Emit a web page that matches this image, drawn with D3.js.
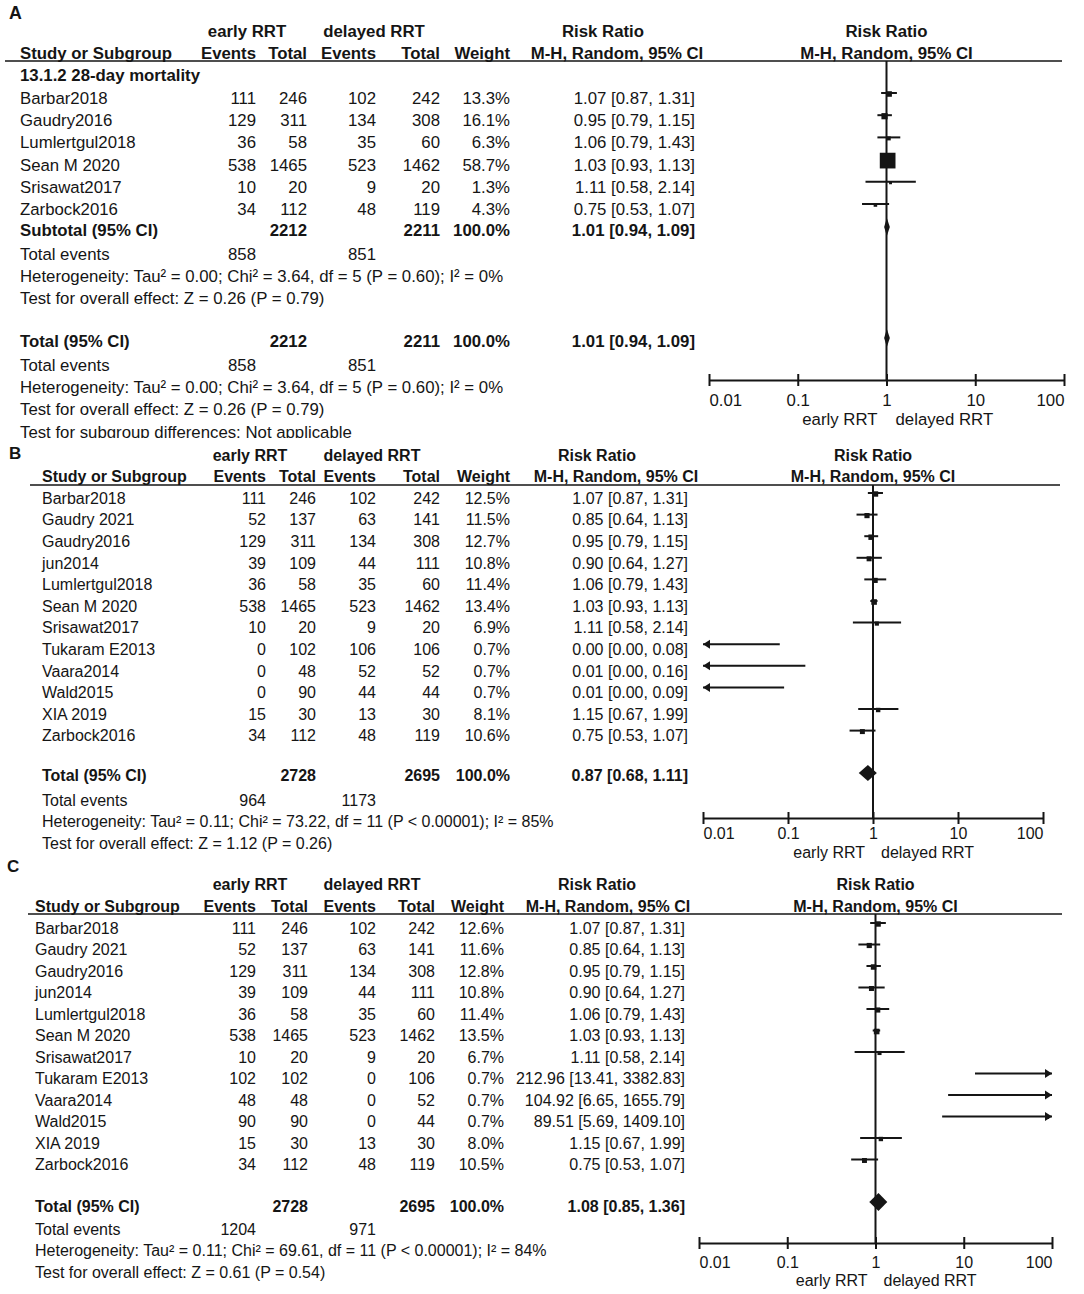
<!DOCTYPE html>
<html><head><meta charset="utf-8">
<script src="https://cdn.jsdelivr.net/npm/d3@7"></script>
<style>body{margin:0;background:#fff}</style>
</head><body>
<script>
// ---------------- DATA ----------------
const studiesA = ["Barbar2018","Gaudry2016","Lumlertgul2018","Sean M 2020","Srisawat2017","Zarbock2016"];
const earlyEventsA = [111,129,36,538,10,34];
const earlyTotalA = [246,311,58,1465,20,112];
const delayedEventsA = [102,134,35,523,9,48];
const delayedTotalA = [242,308,60,1462,20,119];
const weightA = [13.3,16.1,6.3,58.7,1.3,4.3];
const rrA = [1.07,0.95,1.06,1.03,1.11,0.75];
const loA = [0.87,0.79,0.79,0.93,0.58,0.53];
const hiA = [1.31,1.15,1.43,1.13,2.14,1.07];

const studiesBC = ["Barbar2018","Gaudry 2021","Gaudry2016","jun2014","Lumlertgul2018","Sean M 2020","Srisawat2017","Tukaram E2013","Vaara2014","Wald2015","XIA 2019","Zarbock2016"];
const earlyEventsB = [111,52,129,39,36,538,10,0,0,0,15,34];
const earlyTotalB = [246,137,311,109,58,1465,20,102,48,90,30,112];
const delayedEventsB = [102,63,134,44,35,523,9,106,52,44,13,48];
const delayedTotalB = [242,141,308,111,60,1462,20,106,52,44,30,119];
const weightB = [12.5,11.5,12.7,10.8,11.4,13.4,6.9,0.7,0.7,0.7,8.1,10.6];
const rrB = [1.07,0.85,0.95,0.90,1.06,1.03,1.11,0.00,0.01,0.01,1.15,0.75];
const loB = [0.87,0.64,0.79,0.64,0.79,0.93,0.58,0.00,0.00,0.00,0.67,0.53];
const hiB = [1.31,1.13,1.15,1.27,1.43,1.13,2.14,0.08,0.16,0.09,1.99,1.07];

const earlyEventsC = [111,52,129,39,36,538,10,102,48,90,15,34];
const earlyTotalC = [246,137,311,109,58,1465,20,102,48,90,30,112];
const delayedEventsC = [102,63,134,44,35,523,9,0,0,0,13,48];
const delayedTotalC = [242,141,308,111,60,1462,20,106,52,44,30,119];
const weightC = [12.6,11.6,12.8,10.8,11.4,13.5,6.7,0.7,0.7,0.7,8.0,10.5];
const rrC = [1.07,0.85,0.95,0.90,1.06,1.03,1.11,212.96,104.92,89.51,1.15,0.75];
const loC = [0.87,0.64,0.79,0.64,0.79,0.93,0.58,13.41,6.65,5.69,0.67,0.53];
const hiC = [1.31,1.13,1.15,1.27,1.43,1.13,2.14,3382.83,1655.79,1409.10,1.99,1.07];

const pooledRR = [1.01, 0.87, 1.08];
const pooledLo = [0.94, 0.68, 0.85];
const pooledHi = [1.09, 1.11, 1.36];
const pooledEarlyTotal = [2212, 2728, 2728];
const pooledDelayedTotal = [2211, 2695, 2695];
const totalEventsEarly = [858, 964, 1204];
const totalEventsDelayed = [851, 1173, 971];
const heterogeneity = [
  "Heterogeneity: Tau² = 0.00; Chi² = 3.64, df = 5 (P = 0.60); I² = 0%",
  "Heterogeneity: Tau² = 0.11; Chi² = 73.22, df = 11 (P < 0.00001); I² = 85%",
  "Heterogeneity: Tau² = 0.11; Chi² = 69.61, df = 11 (P < 0.00001); I² = 84%"];
const overallEffect = [
  "Test for overall effect: Z = 0.26 (P = 0.79)",
  "Test for overall effect: Z = 1.12 (P = 0.26)",
  "Test for overall effect: Z = 0.61 (P = 0.54)"];
const subgroupTitle = "13.1.2 28-day mortality";
const subgroupTest = "Test for subgroup differences: Not applicable";
const panelLetters = ["A","B","C"];
const groupLabels = ["early RRT","delayed RRT"];
const columnLabels = ["Study or Subgroup","Events","Total","Events","Total","Weight","M-H, Random, 95% CI"];
const axisTicks = [0.01, 0.1, 1, 10, 100];
const axisTickLabels = ["0.01","0.1","1","10","100"];

// ---------------- DRAWING ----------------
const FONT = "'Liberation Sans', Arial, Helvetica, sans-serif";
const INK = "#151515";
const svg = d3.select("body").append("svg")
  .attr("width",1084).attr("height",1294)
  .style("font-family",FONT);
const defs = svg.append("defs");
defs.append("clipPath").attr("id","clipA").append("rect")
  .attr("x",0).attr("y",0).attr("width",1084).attr("height",438);

const sizeScale = d3.scaleLinear().domain([0,60]).range([2.6,16]);
const fmt2 = d3.format(".2f"), fmt1 = d3.format(".1f");
const rrText = (r,l,h) => `${fmt2(r)} [${fmt2(l)}, ${fmt2(h)}]`;

function drawPanel(k, L, D) {
  const g = svg.append("g");
  const tg = L.clip ? g.append("g").attr("clip-path","url(#"+L.clip+")") : g;
  const T = (x,y,s,o={}) => tg.append("text").attr("x",x).attr("y",y).attr("dy","0.36em")
      .attr("font-size",o.fs||L.fs).attr("font-weight",o.bold?"bold":null)
      .attr("text-anchor",o.a||"start").attr("fill",INK).text(s);
  const c = L.cols;
  const x = d3.scaleLog().domain([axisTicks[0], axisTicks[axisTicks.length-1]]).range(L.fx);
  const [dmin,dmax] = x.domain();
  const x1 = x(1);

  // headers
  T(L.letterX, L.letterY, panelLetters[k], {bold:true, fs:L.fs+1});
  T(L.earlyC, L.grpY, groupLabels[0], {bold:true, a:"middle"});
  T(L.delayedC, L.grpY, groupLabels[1], {bold:true, a:"middle"});
  T(L.rrTitleC, L.grpY, "Risk Ratio", {bold:true, a:"middle"});
  T(x1, L.grpY, "Risk Ratio", {bold:true, a:"middle"});
  T(L.nameX, L.hdrY, columnLabels[0], {bold:true});
  for (let j=0;j<5;j++) T(c[j], L.hdrY, columnLabels[j+1], {bold:true, a:"end"});
  T(L.mhC, L.hdrY, columnLabels[6], {bold:true, a:"middle"});
  T(x1, L.hdrY, columnLabels[6], {bold:true, a:"middle"});
  g.append("line").attr("x1",L.lineX[0]).attr("x2",L.lineX[1])
    .attr("y1",L.lineY).attr("y2",L.lineY).attr("stroke",INK).attr("stroke-width",1.6);

  // vertical line of no effect
  g.append("line").attr("x1",x1).attr("x2",x1).attr("y1",L.lineY).attr("y2",L.axisY)
    .attr("stroke",INK).attr("stroke-width",2);

  // axis
  const ax = g.append("g").attr("transform",`translate(0,${L.axisY})`)
    .call(d3.axisBottom(x).tickValues(axisTicks).tickFormat((d,i)=>axisTickLabels[i])
      .tickSize(5).tickSizeOuter(0));
  ax.select(".domain").attr("stroke",INK).attr("stroke-width",2);
  ax.selectAll(".tick line").attr("y1",-6).attr("y2",6).attr("stroke",INK).attr("stroke-width",2);
  ax.selectAll(".tick text").attr("font-family",FONT).attr("font-size",L.fs).attr("fill",INK)
    .attr("y",L.tickLabelDy).attr("dy","0.36em")
    .attr("text-anchor",(d,i)=> i===0?"start":(i===axisTicks.length-1?"end":"middle"));
  T(x1 - L.favGap, L.favY, groupLabels[0], {a:"end"});
  T(x1 + L.favGap, L.favY, groupLabels[1], {a:"start"});

  // study rows
  D.names.forEach((name,i) => {
    const y = L.rowY(i);
    T(L.nameX, y, name);
    T(c[0], y, D.e1[i], {a:"end"});
    T(c[1], y, D.n1[i], {a:"end"});
    T(c[2], y, D.e2[i], {a:"end"});
    T(c[3], y, D.n2[i], {a:"end"});
    T(c[4], y, fmt1(D.w[i])+"%", {a:"end"});
    T(c[5], y, rrText(D.rr[i],D.lo[i],D.hi[i]), {a:"end"});
    const ym = y + L.markOff;
    const xa = x(Math.max(D.lo[i], dmin)), xb = x(Math.min(D.hi[i], dmax));
    g.append("line").attr("x1",xa).attr("x2",xb).attr("y1",ym).attr("y2",ym)
      .attr("stroke",INK).attr("stroke-width",2);
    if (D.lo[i] < dmin) g.append("path")
      .attr("d",`M${xa},${ym}L${xa+7},${ym-4.5}L${xa+7},${ym+4.5}Z`).attr("fill",INK);
    if (D.hi[i] > dmax) g.append("path")
      .attr("d",`M${xb},${ym}L${xb-7},${ym-4.5}L${xb-7},${ym+4.5}Z`).attr("fill",INK);
    if (D.rr[i] > dmin && D.rr[i] < dmax) {
      const s = sizeScale(D.w[i]);
      g.append("rect").attr("x",x(D.rr[i])-s/2).attr("y",ym-s/2+1)
        .attr("width",s).attr("height",s).attr("fill",INK);
    }
  });

  // pooled blocks
  L.pooled.forEach(P => {
    T(L.nameX, P.y, P.label, {bold:true});
    T(c[1], P.y, pooledEarlyTotal[k], {bold:true, a:"end"});
    T(c[3], P.y, pooledDelayedTotal[k], {bold:true, a:"end"});
    T(c[4], P.y, "100.0%", {bold:true, a:"end"});
    T(c[5], P.y, rrText(pooledRR[k],pooledLo[k],pooledHi[k]), {bold:true, a:"end"});
    const yd = P.y + L.diaOff, h = L.diaH/2;
    g.append("path").attr("d",
      `M${x(pooledLo[k])},${yd}L${x(pooledRR[k])},${yd-h}L${x(pooledHi[k])},${yd}L${x(pooledRR[k])},${yd+h}Z`)
      .attr("fill",INK);
    T(L.nameX, P.y + P.gap, "Total events");
    T(c[0], P.y + P.gap, totalEventsEarly[k], {a:"end"});
    T(c[2], P.y + P.gap, totalEventsDelayed[k], {a:"end"});
    T(L.nameX, P.y + P.gap + L.step, heterogeneity[k]);
    T(L.nameX, P.y + P.gap + 2*L.step, overallEffect[k]);
  });
  if (L.subgroupY) T(L.nameX, L.subgroupY, subgroupTitle, {bold:true});
  if (L.subTestY) T(L.nameX, L.subTestY, subgroupTest);
}

// Panel A
drawPanel(0, {
  fs:16.8, letterX:9, letterY:13, grpY:31, hdrY:53, lineY:61, lineX:[5,1062],
  nameX:20, cols:[256,307,376,440,510,695], earlyC:247, delayedC:374, rrTitleC:603, mhC:617,
  fx:[709,1064], axisY:380, tickLabelDy:20, favY:419, favGap:9,
  rowY:i=>98+i*22.2, step:22.2, markOff:-5, diaOff:-3, diaH:18,
  subgroupY:75, subTestY:432, clip:"clipA",
  pooled:[{label:"Subtotal (95% CI)", y:230, gap:24},{label:"Total (95% CI)", y:341, gap:24}]
}, {names:studiesA, e1:earlyEventsA, n1:earlyTotalA, e2:delayedEventsA, n2:delayedTotalA,
    w:weightA, rr:rrA, lo:loA, hi:hiA});

// Panel B
drawPanel(1, {
  fs:16, letterX:9, letterY:453, grpY:455, hdrY:476, lineY:485, lineX:[30,1060],
  nameX:42, cols:[266,316,376,440,510,688], earlyC:250, delayedC:372, rrTitleC:597, mhC:616,
  fx:[703,1043], axisY:818, tickLabelDy:15, favY:852, favGap:8,
  rowY:i=>498+i*21.6, step:21.6, markOff:-5, diaOff:-2, diaH:16,
  pooled:[{label:"Total (95% CI)", y:775, gap:25}]
}, {names:studiesBC, e1:earlyEventsB, n1:earlyTotalB, e2:delayedEventsB, n2:delayedTotalB,
    w:weightB, rr:rrB, lo:loB, hi:hiB});

// Panel C
drawPanel(2, {
  fs:16, letterX:7, letterY:866, grpY:884, hdrY:906, lineY:914, lineX:[28,1062],
  nameX:35, cols:[256,308,376,435,504,685], earlyC:250, delayedC:372, rrTitleC:597, mhC:608,
  fx:[699,1052], axisY:1243, tickLabelDy:19, favY:1280, favGap:8,
  rowY:i=>928+i*21.5, step:21.5, markOff:-5, diaOff:-4, diaH:18,
  pooled:[{label:"Total (95% CI)", y:1206, gap:23}]
}, {names:studiesBC, e1:earlyEventsC, n1:earlyTotalC, e2:delayedEventsC, n2:delayedTotalC,
    w:weightC, rr:rrC, lo:loC, hi:hiC});
</script>
</body></html>
